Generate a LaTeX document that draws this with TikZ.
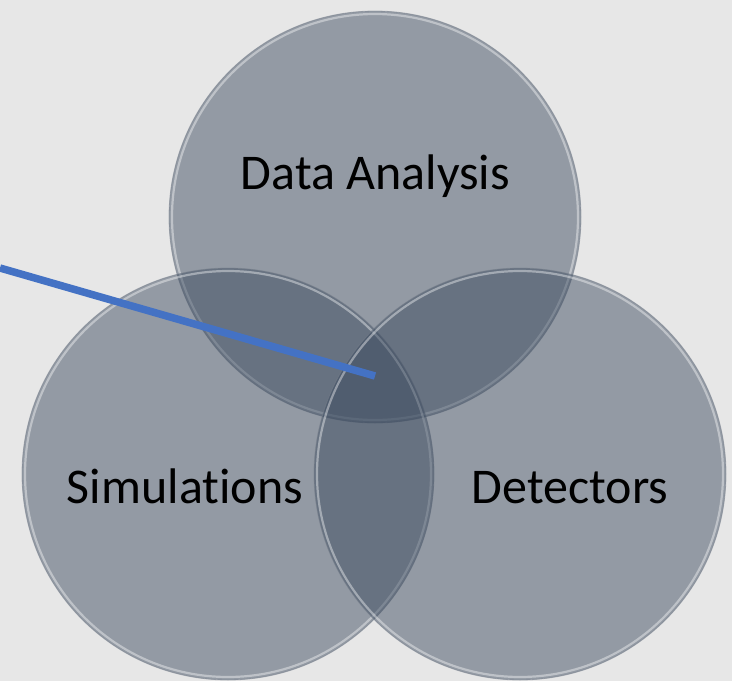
\documentclass[tikz,border=0pt]{standalone}
\usepackage{fontspec}
\setmainfont{Carlito}[Ligatures=NoCommon]
\definecolor{bg}{RGB}{231,231,231}
\definecolor{disc}{RGB}{56,71,92}
\definecolor{rim}{RGB}{120,128,140}
\definecolor{lineblue}{RGB}{68,114,196}
\tikzset{
  venn/.style={circle, minimum size=412pt, inner sep=0pt, fill=disc, fill opacity=0.48, draw=rim, draw opacity=0.55, line width=0.8pt},
  shine/.style={draw=white, draw opacity=0.4, line width=2.2pt},
  lbl/.style={anchor=base, font=\fontsize{50}{56}\selectfont, text=black, inner sep=0pt},
  pointer/.style={draw=lineblue, line width=7.5pt}
}
\begin{document}
\begin{tikzpicture}[x=1pt,y=-1pt]
\fill[bg] (0,0) rectangle (732,681);
\useasboundingbox (0,0) rectangle (732,681);
\node[venn] (top) at (375,217) {};
\draw[shine] (375,217) circle (203);
\node[venn] (left) at (228,474) {};
\draw[shine] (228,474) circle (203);
\node[venn] (right) at (520,474) {};
\draw[shine] (520,474) circle (203);
\node[lbl] (da) at (375.5,189) {Data Analysis};
\node[lbl] (sim) at (185,503) {Simulations};
\node[lbl] (det) at (570,503) {Detectors};
\coordinate (p0) at (0,268);
\coordinate (p1) at (375,376);
\draw[pointer] (p0) -- (p1);
\end{tikzpicture}
\end{document}
